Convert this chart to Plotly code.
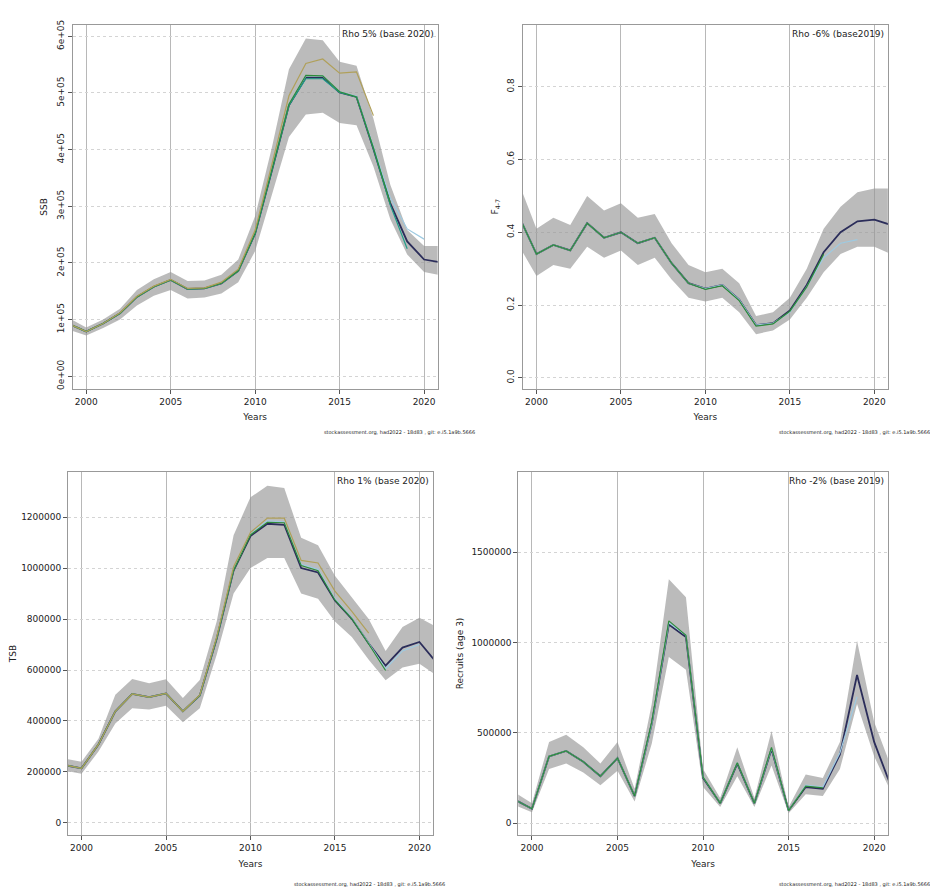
import plotly.graph_objects as go

years = list(range(1999, 2022))

ssb = [0.92,0.79,0.93,1.11,1.40,1.58,1.70,1.54,1.55,1.64,1.86,2.52,3.64,4.78,5.27,5.27,5.01,4.93,4.01,3.05,2.38,2.06,2.01]
ssb_hi = [1.02,0.86,1.00,1.19,1.52,1.71,1.84,1.68,1.69,1.79,2.06,2.83,4.05,5.42,5.96,5.93,5.55,5.48,4.55,3.38,2.58,2.30,2.30]
ssb_lo = [0.82,0.72,0.85,1.00,1.25,1.42,1.52,1.37,1.39,1.46,1.66,2.21,3.21,4.22,4.62,4.65,4.47,4.43,3.70,2.77,2.15,1.84,1.78]
ssb_r1 = [0.92,0.79,0.93,1.11,1.40,1.58,1.70,1.54,1.55,1.64,1.86,2.54,3.68,4.80,5.30,5.30,5.02,4.94,4.05,3.15,2.60,2.42]
ssb_r2 = [0.92,0.79,0.93,1.11,1.40,1.58,1.70,1.54,1.55,1.64,1.86,2.52,3.64,4.78,5.25,5.25,5.01,4.93,4.02,3.02,2.25]
ssb_r3 = [0.92,0.79,0.93,1.11,1.40,1.58,1.70,1.54,1.55,1.64,1.86,2.53,3.66,4.80,5.31,5.30,5.02,4.93,4.03,3.06]
ssb_r4 = [0.92,0.79,0.93,1.12,1.41,1.59,1.71,1.55,1.56,1.66,1.89,2.58,3.75,4.95,5.52,5.60,5.35,5.37,4.60]

f = [0.44,0.34,0.365,0.35,0.425,0.385,0.40,0.37,0.385,0.315,0.26,0.245,0.255,0.215,0.145,0.15,0.185,0.255,0.345,0.40,0.43,0.435,0.42]
f_hi = [0.53,0.41,0.44,0.42,0.50,0.46,0.48,0.44,0.45,0.37,0.31,0.29,0.30,0.26,0.17,0.18,0.22,0.30,0.41,0.47,0.51,0.52,0.52]
f_lo = [0.36,0.28,0.31,0.30,0.36,0.33,0.35,0.31,0.33,0.27,0.22,0.21,0.22,0.18,0.12,0.13,0.16,0.22,0.29,0.34,0.36,0.36,0.34]
f_r1 = [0.44,0.34,0.365,0.35,0.425,0.385,0.40,0.37,0.385,0.315,0.26,0.245,0.255,0.215,0.145,0.15,0.18,0.25,0.33,0.37,0.38]
f_r2 = [0.44,0.34,0.365,0.35,0.425,0.385,0.40,0.37,0.385,0.315,0.26,0.243,0.253,0.212,0.142,0.148,0.183,0.25,0.34]

tsb = [2.27,2.14,3.08,4.38,5.06,4.94,5.08,4.38,5.00,7.23,9.90,11.26,11.74,11.70,10.00,9.83,8.73,8.01,7.04,6.17,6.88,7.10,6.30]
tsb_hi = [2.52,2.40,3.30,5.03,5.65,5.48,5.64,4.90,5.61,7.90,11.29,12.78,13.23,13.14,11.19,10.90,9.70,8.86,8.00,6.75,7.69,8.05,7.70]
tsb_lo = [2.05,1.93,2.80,3.90,4.50,4.45,4.60,3.95,4.50,6.60,9.00,10.00,10.40,10.40,9.00,8.80,7.90,7.30,6.40,5.60,6.10,6.25,5.80]
tsb_r1 = [2.27,2.14,3.08,4.38,5.06,4.94,5.08,4.38,5.00,7.25,9.95,11.35,11.85,11.82,10.15,9.95,8.80,8.05,7.05,6.05,6.75,7.00]
tsb_r2 = [2.27,2.14,3.08,4.38,5.06,4.94,5.08,4.38,5.00,7.24,9.92,11.30,11.80,11.78,10.10,9.90,8.75,8.02,7.02,5.98]
tsb_r3 = [2.27,2.14,3.08,4.38,5.06,4.94,5.08,4.38,5.02,7.30,10.05,11.40,11.96,11.96,10.30,10.20,9.10,8.30,7.45]

rec = [130,80,370,400,340,260,360,150,550,1100,1030,250,110,330,110,410,70,200,190,380,820,450,200]
rec_hi = [170,110,450,490,420,330,450,190,660,1350,1250,300,140,420,140,510,90,270,250,450,1010,560,310]
rec_lo = [100,60,300,330,280,210,290,120,440,920,850,200,90,260,90,320,55,160,150,300,660,370,170]
rec_r1 = [130,80,370,400,340,260,360,150,550,1110,1040,255,110,335,110,415,70,210,200,390,700]
rec_r2 = [130,80,370,400,340,260,360,150,560,1120,1040,255,110,335,110,420,70,205,195]

fig = go.Figure()
C_MAIN = "#2b2d5a"
RETRO = ["#9ecae1", "#1f9e89", "#2e8b3a", "#b0a05a"]

def panel(n, hi, lo, main, retros, scale):
    xa = "x" if n == 1 else f"x{n}"
    ya = "y" if n == 1 else f"y{n}"
    sc = lambda v: [a * scale for a in v]
    fig.add_trace(go.Scatter(x=years, y=sc(hi), mode="lines", line=dict(width=0), xaxis=xa, yaxis=ya, showlegend=False, hoverinfo="skip"))
    fig.add_trace(go.Scatter(x=years, y=sc(lo), mode="lines", line=dict(width=0), fill="tonexty", fillcolor="rgba(150,150,150,0.65)", xaxis=xa, yaxis=ya, showlegend=False))
    fig.add_trace(go.Scatter(x=years, y=sc(main), mode="lines", line=dict(color=C_MAIN, width=1.8), xaxis=xa, yaxis=ya, showlegend=False))
    for r, c in zip(retros, RETRO):
        fig.add_trace(go.Scatter(x=years[:len(r)], y=sc(r), mode="lines", line=dict(color=c, width=1.2), xaxis=xa, yaxis=ya, showlegend=False))

panel(1, ssb_hi, ssb_lo, ssb, [ssb_r1, ssb_r2, ssb_r3, ssb_r4], 1e5)
panel(2, f_hi, f_lo, f, [f_r1, [], f_r2], 1)
panel(3, tsb_hi, tsb_lo, tsb, [tsb_r1, [], tsb_r2, tsb_r3], 1e5)
panel(4, rec_hi, rec_lo, rec, [rec_r1, [], rec_r2], 1000)

ax_common = dict(showline=True, mirror=True, linecolor="#999", linewidth=1, gridcolor="#d4d4d4", griddash="dot",
                 ticks="outside", ticklen=4, tickcolor="#555", zeroline=False, tickfont=dict(size=9, color="#222"))
xcommon = dict(ax_common, range=[1999.2, 2020.8], tickvals=[2000, 2005, 2010, 2015, 2020], gridcolor="#b8b8b8", griddash="solid",
               title=dict(text="Years", font=dict(size=9), standoff=8))

fig.update_layout(
    width=938, height=890, paper_bgcolor="white", plot_bgcolor="white",
    margin=dict(l=0, r=0, t=0, b=0), font=dict(family="DejaVu Sans", color="#222"),
    xaxis=dict(xcommon, domain=[0.069, 0.458], anchor="y"),
    yaxis=dict(ax_common, domain=[0.575, 0.9865], anchor="x", range=[-0.22e5, 6.2e5], tickvals=[0, 1e5, 2e5, 3e5, 4e5, 5e5, 6e5],
               ticktext=["0e+00", "1e+05", "2e+05", "3e+05", "4e+05", "5e+05", "6e+05"], tickangle=-90,
               title=dict(text="SSB", font=dict(size=9), standoff=6)),
    xaxis2=dict(xcommon, domain=[0.549, 0.938], anchor="y2"),
    yaxis2=dict(ax_common, domain=[0.575, 0.9865], anchor="x2", range=[-0.03, 0.97], tickvals=[0, 0.2, 0.4, 0.6, 0.8],
                ticktext=["0.0", "0.2", "0.4", "0.6", "0.8"], tickangle=-90,
                title=dict(text="F<sub>4-7</sub>", font=dict(size=9), standoff=6)),
    xaxis3=dict(xcommon, domain=[0.064, 0.453], anchor="y3"),
    yaxis3=dict(ax_common, domain=[0.070, 0.481], anchor="x3", range=[-0.48e5, 13.78e5],
                tickvals=[0, 2e5, 4e5, 6e5, 8e5, 10e5, 12e5], ticktext=["0", "200000", "400000", "600000", "800000", "1000000", "1200000"],
                title=dict(text="TSB", font=dict(size=9), standoff=4)),
    xaxis4=dict(xcommon, domain=[0.544, 0.938], anchor="y4"),
    yaxis4=dict(ax_common, domain=[0.070, 0.481], anchor="x4", range=[-0.066e6, 1.945e6],
                tickvals=[0, 5e5, 10e5, 15e5], ticktext=["0", "500000", "1000000", "1500000"],
                title=dict(text="Recruits (age 3)", font=dict(size=9), standoff=6)),
)

labels = [("Rho 5% (base 2020)", 0.456, 0.984), ("Rho -6% (base2019)", 0.936, 0.984),
          ("Rho 1% (base 2020)", 0.451, 0.478), ("Rho -2% (base 2019)", 0.936, 0.478)]
for t, x, y in labels:
    fig.add_annotation(text=t, x=x, y=y, xref="paper", yref="paper", xanchor="right", yanchor="top", showarrow=False, font=dict(size=9))
foot = "stockassessment.org, had2022 - 18d83 , git: e.i5.1a9b.5666"
for x, y in [(0.500, 0.525), (0.985, 0.525), (0.468, 0.014), (0.985, 0.014)]:
    fig.add_annotation(text=foot, x=x, y=y, xref="paper", yref="paper", xanchor="right", yanchor="middle", showarrow=False, font=dict(size=5))

fig.write_html("out.html")
